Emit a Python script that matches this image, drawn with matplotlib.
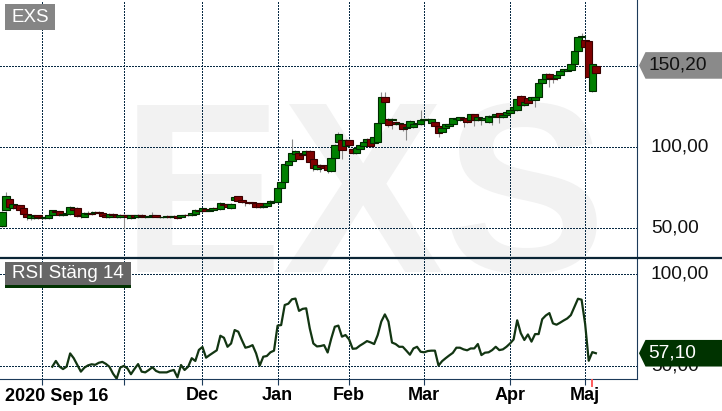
import matplotlib
matplotlib.use('Agg')
import matplotlib.pyplot as plt
from matplotlib.patches import Rectangle, Polygon
from matplotlib.lines import Line2D
from matplotlib.transforms import IdentityTransform, blended_transform_factory

plt.rcParams['font.family'] = ['Liberation Sans', 'DejaVu Sans']

# ---------------- data ----------------
ticker = "EXS"
opens = [51.5, 61.2, 68.0, 62.5, 64.5, 64.3, 62.3, 58.8, 56.2, 56.5,
         58.0, 57.2, 56.5, 56.5, 58.2, 60.8, 60.8, 58.5, 59.0, 59.0,
         62.8, 62.5, 58.0, 57.0, 59.0, 59.8, 59.5, 60.0, 59.3, 58.3,
         57.0, 59.0, 58.3, 57.0, 58.5, 58.0, 56.5, 58.0, 57.0, 58.3,
         57.5, 57.3, 57.8, 58.3, 57.2, 56.8, 57.0, 57.5, 56.8, 57.6,
         56.8, 58.0, 58.5, 58.2, 59.2, 61.0, 60.5, 62.0, 61.0, 61.2,
         62.7, 61.7, 65.0, 65.0, 62.5, 67.4, 69.7, 67.4, 66.5, 66.0,
         66.0, 65.5, 65.4, 63.0, 64.0, 65.4, 66.5, 66.4, 74.6, 78.5,
         88.9, 91.4, 96.0, 96.1, 96.0, 95.5, 97.5, 93.0, 86.3, 89.0,
         88.5, 89.0, 85.4, 93.6, 103.3, 104.3, 100.5, 104.3, 99.0, 96.1,
         98.6, 100.8, 103.3, 104.9, 102.5, 103.3, 114.6, 130.9, 117.4, 116.5,
         115.6, 114.5, 114.5, 111.5, 112.1, 112.6, 114.5, 114.1, 116.6, 116.5,
         114.8, 115.6, 112.9, 109.5, 111.5, 113.0, 113.9, 117.0, 116.6, 118.0,
         118.0, 116.6, 120.1, 116.6, 118.0, 116.8, 115.6, 118.8, 119.0, 120.7,
         118.8, 119.7, 121.1, 122.8, 122.8, 131.3, 126.0, 129.9, 128.9, 128.9,
         130.5, 139.1, 141.6, 144.9, 142.5, 142.2, 144.3, 146.9, 147.0, 147.3,
         150.8, 159.0, 167.9, 166.0, 165.2, 134.6, 150.0]
closes = [60.0, 69.9, 63.0, 64.8, 62.5, 61.2, 58.8, 56.8, 58.2, 57.5,
          56.8, 56.3, 57.0, 58.2, 61.2, 60.0, 58.5, 59.0, 59.2, 63.0,
          61.2, 57.8, 57.5, 59.5, 59.3, 59.2, 60.0, 59.3, 57.8, 56.8,
          59.2, 58.0, 57.0, 58.5, 58.0, 56.8, 58.2, 57.0, 58.3, 57.5,
          57.3, 57.8, 58.3, 57.2, 56.8, 57.0, 57.5, 56.8, 57.6, 56.5,
          58.0, 58.5, 58.0, 59.5, 61.4, 60.5, 62.3, 61.0, 61.5, 62.7,
          62.3, 65.4, 64.5, 63.0, 65.0, 69.4, 67.1, 66.2, 66.0, 65.8,
          65.5, 63.0, 62.9, 64.0, 65.4, 67.0, 66.8, 74.6, 78.5, 89.4,
          91.4, 96.5, 97.5, 93.0, 95.0, 97.5, 91.0, 86.9, 89.0, 87.5,
          87.0, 85.8, 93.6, 101.6, 108.0, 98.2, 104.3, 101.2, 96.5, 99.2,
          101.2, 103.3, 104.9, 100.8, 106.3, 114.6, 130.9, 127.9, 113.5, 117.0,
          114.1, 115.0, 110.9, 112.5, 115.9, 114.5, 115.0, 116.6, 117.0, 117.2,
          117.0, 112.9, 108.8, 111.5, 114.1, 114.5, 117.6, 118.0, 118.2, 117.5,
          115.6, 120.1, 116.6, 118.6, 117.0, 117.8, 119.0, 119.3, 120.5, 118.6,
          120.0, 121.7, 122.8, 124.4, 129.5, 125.8, 127.5, 126.9, 130.5, 131.0,
          139.1, 141.6, 144.9, 142.5, 141.8, 144.3, 146.9, 147.8, 147.8, 150.8,
          159.0, 167.9, 168.4, 161.7, 143.2, 150.8, 145.3]
highs = [60.5, 72.2, 68.5, 65.5, 65.0, 64.5, 62.5, 59.0, 58.5, 58.0,
         58.5, 57.5, 58.5, 58.5, 61.5, 61.0, 61.0, 59.5, 60.0, 64.0,
         63.0, 63.0, 58.5, 60.0, 60.5, 60.5, 60.5, 60.5, 59.8, 58.5,
         59.5, 59.3, 58.5, 59.0, 59.0, 58.5, 58.5, 58.5, 58.8, 58.8,
         58.0, 58.0, 60.0, 58.5, 57.5, 57.5, 58.0, 57.8, 58.0, 57.8,
         58.5, 59.0, 59.0, 60.0, 61.8, 61.5, 62.8, 62.5, 62.0, 63.0,
         63.2, 66.0, 65.5, 65.3, 65.5, 69.8, 70.0, 67.8, 67.0, 66.5,
         66.3, 66.0, 65.6, 64.5, 66.0, 67.5, 68.0, 75.0, 79.0, 90.0,
         92.0, 105.2, 98.0, 96.5, 96.5, 98.0, 98.0, 93.5, 89.5, 89.5,
         89.0, 89.5, 94.0, 102.0, 109.5, 104.8, 104.8, 104.8, 99.5, 99.8,
         101.8, 105.0, 105.5, 105.5, 107.0, 115.0, 134.0, 134.0, 118.0, 118.0,
         116.0, 115.5, 115.0, 113.0, 116.5, 115.0, 116.0, 122.8, 117.5, 118.0,
         117.5, 116.0, 113.5, 112.0, 114.5, 115.0, 118.0, 118.5, 118.8, 118.5,
         118.5, 120.5, 120.5, 119.0, 118.5, 118.5, 119.5, 120.0, 121.0, 121.2,
         120.5, 122.0, 123.2, 124.8, 130.0, 131.8, 128.0, 130.3, 131.0, 135.0,
         139.5, 142.0, 145.3, 145.3, 143.0, 144.8, 147.3, 148.2, 148.2, 151.2,
         159.5, 168.5, 169.9, 166.5, 165.5, 151.5, 151.0]
lows = [51.0, 61.0, 62.5, 62.0, 62.0, 60.5, 58.0, 55.5, 55.5, 56.0,
        56.0, 55.8, 56.0, 56.0, 57.5, 58.5, 57.5, 57.5, 58.0, 58.5,
        60.5, 57.0, 56.5, 56.8, 58.5, 58.5, 59.0, 58.8, 57.5, 56.5,
        56.5, 57.2, 56.5, 56.5, 49.6, 56.0, 56.0, 56.5, 56.3, 57.0,
        56.5, 56.8, 57.0, 56.8, 56.5, 56.5, 56.5, 56.3, 56.5, 56.0,
        56.5, 57.5, 57.5, 57.8, 59.0, 59.5, 60.0, 60.5, 60.5, 61.0,
        61.8, 61.5, 63.5, 62.5, 62.0, 67.0, 66.8, 65.5, 64.0, 65.0,
        65.0, 62.5, 62.5, 62.5, 63.5, 65.0, 66.0, 66.0, 74.0, 78.0,
        88.5, 91.0, 95.5, 92.5, 94.5, 95.0, 90.5, 85.4, 86.0, 85.0,
        86.0, 84.0, 85.0, 93.0, 103.0, 93.0, 100.0, 100.5, 96.0, 95.5,
        98.0, 100.0, 102.5, 100.0, 102.0, 103.0, 114.0, 126.0, 112.5, 110.9,
        113.5, 113.5, 110.0, 104.3, 111.5, 112.0, 114.0, 113.5, 115.5, 116.0,
        114.0, 112.0, 106.4, 109.0, 111.0, 112.5, 113.5, 116.5, 116.0, 112.1,
        115.0, 116.0, 113.0, 116.0, 113.5, 116.0, 115.0, 113.5, 118.5, 115.0,
        118.0, 119.0, 120.5, 122.0, 122.5, 125.0, 125.5, 126.5, 128.5, 124.8,
        130.0, 138.5, 141.0, 137.1, 139.6, 141.5, 143.8, 146.5, 146.5, 147.0,
        150.5, 158.5, 167.5, 161.0, 142.5, 134.0, 145.0]

rsi_start = 14
rsi_values = [49.8, 52.9, 49.9, 48.5, 49.8, 57.0, 54.4, 50.7, 47.1, 49.3,
              50.5, 51.1, 50.8, 51.9, 52.4, 51.3, 49.7, 46.0, 43.3, 49.3,
              50.2, 48.9, 45.7, 48.6, 51.2, 47.1, 46.7, 48.0, 49.5, 47.5,
              46.7, 46.7, 46.7, 47.5, 48.0, 44.0, 50.7, 48.0, 49.8, 54.4,
              52.9, 58.9, 60.5, 54.7, 56.1, 57.4, 58.7, 66.6, 65.5, 60.6,
              62.4, 69.7, 68.8, 64.3, 60.1, 60.6, 61.5, 57.0, 50.3, 55.2,
              55.6, 57.6, 58.5, 72.1, 72.4, 83.3, 84.0, 86.4, 86.8, 80.1,
              81.2, 81.5, 70.6, 62.4, 60.8, 61.0, 61.5, 57.5, 65.0, 71.5,
              72.1, 66.1, 67.0, 64.6, 59.5, 59.7, 61.2, 62.4, 63.7, 63.0,
              62.1, 67.0, 74.3, 78.2, 74.3, 62.9, 62.1, 60.6, 60.6, 58.5,
              56.3, 59.7, 60.6, 57.9, 57.6, 58.3, 58.5, 58.5, 50.4, 52.8,
              54.4, 55.9, 57.3, 60.1, 60.1, 59.2, 58.7, 59.7, 59.7, 62.1,
              56.1, 57.4, 57.6, 58.8, 60.6, 58.8, 59.2, 60.6, 62.4, 64.6,
              75.0, 68.0, 64.3, 67.3, 63.4, 67.5, 67.5, 75.6, 77.6, 78.9,
              73.3, 72.6, 73.7, 74.9, 76.0, 77.8, 82.3, 86.7, 86.2, 73.0,
              53.0, 57.7, 57.1]

last_price = 150.20
last_rsi = 57.10
price_levels = [50, 100, 150]
rsi_levels = [50, 100]
tick_days = [11, 34, 56, 77, 97, 118, 142, 163]
tick_labels = ["", "", "Dec", "Jan", "Feb", "Mar", "Apr", "Maj"]
start_label = "2020 Sep 16"
today_day = 165
rsi_title = "RSI Stäng 14"

# ---------------- figure ----------------
W, H = 722, 411
fig = plt.figure(figsize=(W / 100, H / 100), dpi=100)
fig.patch.set_facecolor('white')

def fy(y):
    return H - y

PR = 637.0
DIV = 257.7
BOT = 379.0
ax = fig.add_axes([0, (H - DIV) / H, PR / W, DIV / H])
ax2 = fig.add_axes([0, (H - BOT) / H, PR / W, (BOT - DIV) / H])

navy = '#1c3a5a'
gridc = '#082a44'
gkw = dict(color=gridc, lw=0.75, ls=(0, (1.35, 1.35)), zorder=1, antialiased=False)
for a in (ax, ax2):
    a.set_facecolor('none')
    a.set_xlim(-0.615, 177.5)
    for s in a.spines.values():
        s.set_visible(False)
    a.spines['right'].set_visible(True)
    a.spines['right'].set_color(navy)
    a.spines['right'].set_linewidth(0.8)
    for t in tick_days:
        a.axvline(t, **gkw)
    a.set_yticks([])

ax.set_ylim(32.05, 190.4)
ax2.set_ylim(43.1, 109.0)
ax2.spines['bottom'].set_visible(True)
ax2.spines['bottom'].set_color(navy)
ax2.spines['bottom'].set_linewidth(0.8)

for v in price_levels:
    ax.axhline(v, **gkw)
for v in rsi_levels:
    ax2.axhline(v, **gkw)

# watermark
fig.text(363.5 / W, fy(271.7) / H, ticker, fontsize=175, fontweight='bold',
         color='#f2f2f2', ha='center', va='baseline', zorder=-1)

# candles
w = 2.1
days = list(range(len(closes)))
ax.vlines(days, lows, highs, color='#8c8c8c', lw=0.8, zorder=2)
for d, o, c in zip(days, opens, closes):
    up = c >= o
    fc = '#008000' if up else '#800000'
    ec = '#002a00' if up else '#3a0000'
    h = max(abs(c - o), 0.35)
    ax.add_patch(Rectangle((d - w / 2, min(o, c)), w, h, facecolor=fc,
                           edgecolor=ec, lw=0.8, zorder=3))
ax.set_xticks([])

# RSI
rsi_days = list(range(rsi_start, rsi_start + len(rsi_values)))
ax2.plot(rsi_days, rsi_values, color='#123512', lw=1.6, zorder=3)

ax2.set_xticks(tick_days)
ax2.set_xticklabels(tick_labels, fontsize=13, fontweight='bold', color='#000000')
ax2.tick_params(axis='x', direction='out', length=4.3, width=0.8, color=navy, pad=1.5)

fig.text(5 / W, fy(396) / H, start_label, ha='left', va='center', fontsize=13,
         fontweight='bold', color='#000000')

# divider line
fig.add_artist(Line2D([0, W], [fy(DIV), fy(DIV)], transform=IdentityTransform(),
                      color='#0a2536', lw=1.6, zorder=4))

# today tick
xt = ax2.transData.transform((today_day, 0))[0]
fig.add_artist(Line2D([xt, xt], [fy(BOT + 0.5), fy(BOT + 6.5)], transform=IdentityTransform(),
                      color='#ff5a5a', lw=1.4, zorder=4))

# right labels
def fmt(v):
    return f"{v:.2f}".replace('.', ',')

bt = blended_transform_factory(ax.transAxes, ax.transData)
for v in price_levels[:-1]:
    ax.text(651 / PR, v, fmt(v), transform=bt, ha='left', va='center',
            fontsize=13.8, color='#111111', clip_on=False)
bt2 = blended_transform_factory(ax2.transAxes, ax2.transData)
for v in rsi_levels:
    ax2.text(651 / PR, v, fmt(v), transform=bt2, ha='left', va='center',
             fontsize=13.8, color='#111111', clip_on=False)

def badge(axis, val, color, tcolor):
    yc = axis.transData.transform((0, val))[1]
    pts = [(639, yc), (645.5, yc + 13.3), (W, yc + 13.3), (W, yc - 13.3), (645.5, yc - 13.3)]
    fig.add_artist(Polygon(pts, closed=True, transform=IdentityTransform(),
                           facecolor=color, edgecolor='none', zorder=5))
    fig.text(648 / W, yc / H, fmt(val), ha='left', va='center', fontsize=13.8,
             color=tcolor, zorder=6)

badge(ax, last_price, '#8a8a8a', '#111111')
badge(ax2, last_rsi, '#003300', '#ffffff')

# title boxes
fig.add_artist(Rectangle((5, fy(30)), 50, 26, transform=IdentityTransform(),
                         facecolor='#858585', edgecolor='none', zorder=5))
fig.text(30 / W, fy(17.5) / H, ticker, ha='center', va='center', fontsize=13.5,
         color='white', zorder=6)
fig.add_artist(Rectangle((5, fy(285)), 126, 23, transform=IdentityTransform(),
                         facecolor='#666666', edgecolor='none', zorder=5))
fig.add_artist(Rectangle((5, fy(288)), 126, 3, transform=IdentityTransform(),
                         facecolor='#003300', edgecolor='none', zorder=5))
fig.text(68 / W, fy(273.5) / H, rsi_title, ha='center', va='center', fontsize=13.5,
         color='white', zorder=6)

fig.savefig('out.png', dpi=100)
